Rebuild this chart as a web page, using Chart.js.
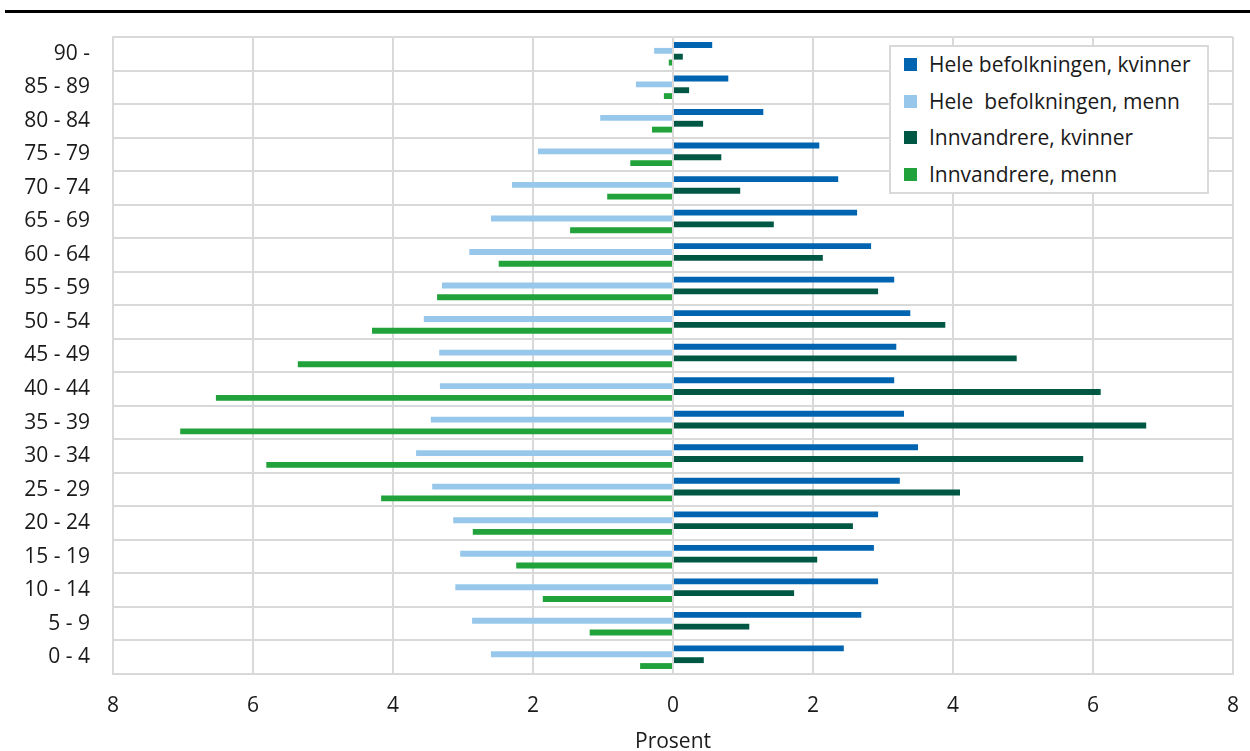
<!DOCTYPE html>
<html lang="no">
<head>
    <meta charset="UTF-8">
    <title>Befolkningspyramide</title>
    <script src="https://cdn.jsdelivr.net/npm/chart.js"></script>
    <style>
        body {
            margin: 0;
            background: #fff;
            font-family: 'Open Sans', sans-serif;
            color: #1a1a1a;
        }
        .wrap {
            position: relative;
            width: 1250px;
            height: 751px;
            overflow: hidden;
        }
        .topline {
            position: absolute;
            left: 5px;
            right: 0;
            top: 10px;
            height: 3px;
            background: #000;
        }
        .legend {
            position: absolute;
            left: 889px;
            top: 45px;
            width: 316px;
            height: 145px;
            border: 2px solid #d9d9d9;
            background: #fff;
            box-sizing: content-box;
        }
        .legend div {
            position: absolute;
            left: 38px;
            font-size: 21px;
            line-height: 26px;
            white-space: pre;
        }
        .legend span {
            position: absolute;
            left: -25px;
            top: 7px;
            width: 13px;
            height: 13px;
        }
    </style>
</head>
<body>
<div class="wrap">
    <canvas id="chart" width="1250" height="751"></canvas>
    <div class="topline"></div>
    <div class="legend" id="legend"></div>
</div>
<script>
    // aldersgrupper, eldste øverst
    const ageGroups = ['90 -', '85 - 89', '80 - 84', '75 - 79', '70 - 74', '65 - 69', '60 - 64',
        '55 - 59', '50 - 54', '45 - 49', '40 - 44', '35 - 39', '30 - 34', '25 - 29',
        '20 - 24', '15 - 19', '10 - 14', '5 - 9', '0 - 4'];

    // prosent (menn negative for venstre side)
    const heleKvinner = [0.56, 0.79, 1.29, 2.09, 2.36, 2.63, 2.83, 3.16, 3.39, 3.19,
        3.16, 3.30, 3.50, 3.24, 2.93, 2.87, 2.93, 2.69, 2.44];
    const heleMenn = [-0.27, -0.53, -1.04, -1.93, -2.30, -2.60, -2.91, -3.30, -3.56, -3.34,
        -3.33, -3.46, -3.67, -3.44, -3.14, -3.04, -3.11, -2.87, -2.60];
    const innvKvinner = [0.14, 0.23, 0.43, 0.69, 0.96, 1.44, 2.14, 2.93, 3.89, 4.91,
        6.11, 6.76, 5.86, 4.10, 2.57, 2.06, 1.73, 1.09, 0.44];
    const innvMenn = [-0.06, -0.13, -0.30, -0.61, -0.94, -1.47, -2.49, -3.37, -4.30, -5.36,
        -6.53, -7.04, -5.81, -4.17, -2.86, -2.24, -1.86, -1.19, -0.47];

    const seriesNames = ['Hele befolkningen, kvinner', 'Hele  befolkningen, menn',
        'Innvandrere, kvinner', 'Innvandrere, menn'];
    const seriesColors = ['#0064b0', '#97c8ec', '#005744', '#22a23a'];
    const seriesData = [heleKvinner, heleMenn, innvKvinner, innvMenn];

    const xTicks = [-8, -6, -4, -2, 0, 2, 4, 6, 8];

    Chart.defaults.font.family = "'Open Sans', sans-serif";
    Chart.defaults.color = '#1a1a1a';

    const gridColor = '#d9d9d9';

    const datasets = seriesData.map(function (d, i) {
        return {
            label: seriesNames[i],
            data: d,
            backgroundColor: seriesColors[i],
            categoryPercentage: 0.7,
            barPercentage: 1.0
        };
    });

    new Chart(document.getElementById('chart'), {
        type: 'bar',
        data: { labels: ageGroups, datasets: datasets },
        options: {
            indexAxis: 'y',
            responsive: false,
            animation: false,
            layout: { padding: { top: 37, right: 17, left: 0, bottom: 0 } },
            plugins: {
                legend: { display: false },
                tooltip: { enabled: false }
            },
            scales: {
                x: {
                    min: -8,
                    max: 8,
                    afterBuildTicks: function (scale) {
                        scale.ticks = xTicks.map(v => ({ value: v }));
                    },
                    afterFit: function (scale) { scale.height = 77; },
                    // usynlige tick-streker gir avstand ned til tallene
                    grid: {
                        color: gridColor, lineWidth: 2,
                        drawTicks: true, tickLength: 19, tickColor: 'rgba(0,0,0,0)'
                    },
                    border: { color: gridColor, width: 2 },
                    ticks: {
                        padding: 0,
                        font: { size: 21 },
                        color: '#1a1a1a',
                        callback: function (v) { return Math.abs(v); }
                    },
                    title: {
                        display: true,
                        text: 'Prosent',
                        font: { size: 21 },
                        color: '#1a1a1a',
                        padding: { top: 0, bottom: -4 }
                    }
                },
                y: {
                    afterFit: function (scale) { scale.width = 113; },
                    grid: { color: gridColor, lineWidth: 2, drawTicks: false, offset: true },
                    border: { color: gridColor, width: 2 },
                    ticks: {
                        padding: 23,
                        font: { size: 21 },
                        color: '#1a1a1a'
                    }
                }
            }
        }
    });

    // legend i plottområdet
    const legendEl = document.getElementById('legend');
    const rowTops = [4, 41, 77, 114];
    seriesNames.forEach(function (name, i) {
        const row = document.createElement('div');
        row.style.top = rowTops[i] + 'px';
        row.textContent = name;
        const box = document.createElement('span');
        box.style.background = seriesColors[i];
        row.appendChild(box);
        legendEl.appendChild(row);
    });
</script>
</body>
</html>
